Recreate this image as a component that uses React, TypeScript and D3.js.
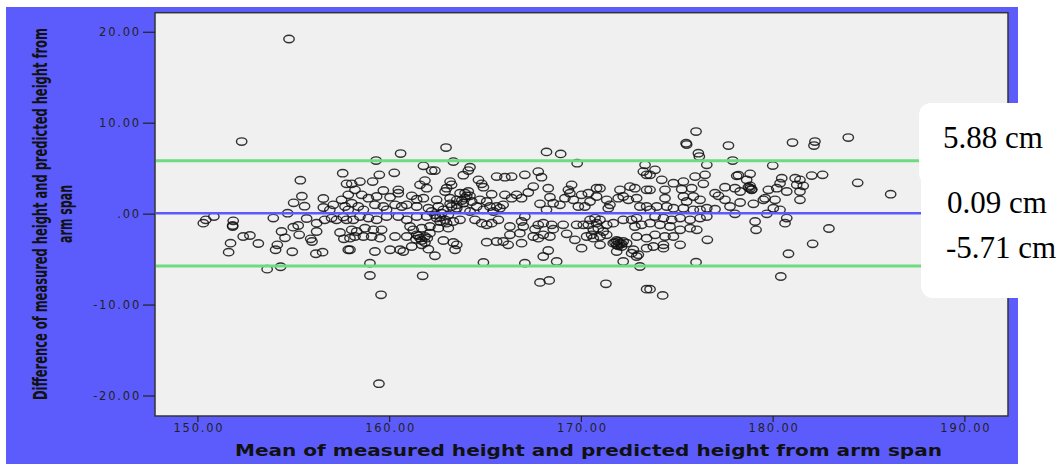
import React, { useLayoutEffect, useRef, useState } from "react";
import * as d3 from "d3";

// Bland-Altman: mean of measured & predicted height vs their difference
const xTicks = [150, 160, 170, 180, 190];
const xTickLabels = ["150.00", "160.00", "170.00", "180.00", "190.00"];
const yTicks = [-20, -10, 0, 10, 20];
const yTickLabels = ["-20.00", "-10.00", ".00", "10.00", "20.00"];

const limitValues = [5.88, 0.09, -5.71];
const limitLabels = ["5.88 cm", "0.09 cm", "-5.71 cm"];

const xTitle = "Mean of measured height and predicted height from arm span";
const yTitle = ["Difference of measured height and predicted height from", "arm span"];

// [mean, difference]
const pointsLow: [number, number][] = [
  [154.75, 19.26], [159.44, -18.65],
  [152.28, 7.98], [157.55, 4.5], [155.34, 3.73], [155.42, 1.97], [154.99, 1.24], [155.56, 0.87], [156.54, 1.72], [156.54, 0.73],
  [150.28, -0.99], [150.41, -0.63], [150.83, -0.26], [151.84, -0.74], [151.81, -1.25], [151.81, -1.36], [153.93, -0.44], [154.68, 0.1],
  [152.36, -2.46], [152.71, -2.35], [154.36, -1.91], [154.54, -2.61], [151.7, -3.19], [151.6, -4.18], [153.15, -3.23], [154.14, -3.38],
  [154.05, -3.92], [154.92, -4.14], [153.61, -6.05], [154.31, -5.79], [154.97, -1.43], [155.23, -1.25], [155.28, -2.28], [155.88, -2.72],
  [155.95, -3.01], [156.19, -1.91], [156.15, -4.36], [156.5, -4.18], [157.41, -2.02], [157.61, -2.72], [157.84, -3.92], [155.67, -0.48],
  [156.19, -0.99], [156.61, -0.63], [156.97, -0.44], [157.23, -0.63], [157.58, -0.33], [157.75, -0.63], [157.49, 1.57], [157.67, 0.84],
  [157.84, 2.12], [157.75, 3.33], [157.06, 1.02], [156.88, 0.47], [157.84, 0.47],
];

const pointsMidLow: [number, number][] = [
  [160.57, 6.66], [162.94, 7.32], [159.29, 5.89], [163.32, 5.78], [161.76, 5.31], [162.19, 4.79], [162.36, 4.79], [164.19, 5.16],
  [164.1, 4.79], [163.84, 4.28], [160.24, 4.54], [159.46, 4.32], [159.11, 3.58], [158.45, 3.58], [158.02, 3.33], [161.84, 3.69],
  [161.93, 2.85], [161.58, 3.22], [163.15, 3.58], [163.23, 3.22], [162.97, 2.85], [162.89, 2.49], [160.45, 2.67], [160.45, 2.3],
  [159.67, 2.6], [164.63, 3.77], [164.8, 3.33], [164.89, 2.96], [165.58, 4.13], [165.32, 2.19], [164.1, 2.49], [163.93, 2.3],
  [164.02, 2.01], [158.19, 2.67], [158.54, 2.12], [158.89, 1.75], [159.32, 1.94], [160.02, 1.86], [161.15, 2.01], [161.41, 1.64],
  [161.76, 1.75], [162.45, 1.57], [163.15, 1.75], [163.5, 1.57], [163.84, 1.2], [164.28, 1.39], [164.71, 1.57], [165.06, 1.39],
  [165.58, 0.84], [158.02, 1.2], [158.36, 0.84], [158.63, 0.47], [159.23, 1.02], [159.67, 0.84], [159.84, 0.47], [160.28, 1.02],
  [160.63, 0.84], [160.89, 1.02], [161.41, 0.84], [162.02, 0.65], [162.54, 0.84], [162.8, 0.47], [163.23, 0.84], [163.5, 0.65],
  [163.93, 0.47], [164.19, 0.29], [164.54, 0.84], [164.89, 0.47], [165.23, 0.84], [165.41, 0.29],
  [158.1, -0.63], [158.45, -0.26], [158.89, -0.44], [159.32, -0.63], [159.84, -0.26], [160.45, -0.26], [160.89, -0.63], [161.41, -0.26],
  [161.93, -0.26], [162.45, -0.44], [162.63, -0.81], [162.97, -0.99], [163.32, -0.81], [163.67, -0.63], [164.45, -0.63], [164.8, -0.99],
  [165.06, -1.18], [165.32, -0.99], [165.67, -0.63], [158.02, -1.73], [158.28, -1.91], [158.71, -1.54], [159.15, -1.73], [159.58, -1.73],
  [161.06, -1.36], [161.23, -1.73], [161.67, -1.54], [162.1, -1.36], [162.54, -1.54], [163.06, -1.54], [157.93, -2.64], [158.19, -2.46],
  [158.63, -2.46], [159.06, -2.46], [159.5, -2.64], [160.28, -2.46], [160.89, -2.46], [161.41, -2.28], [161.58, -2.64], [161.84, -2.46],
  [162.1, -2.09], [162.8, -2.9], [163.32, -3.12], [163.5, -3.38], [165.06, -3.08], [165.58, -3.01], [157.93, -3.92], [159.23, -4.11],
  [160.02, -3.92], [160.54, -3.92], [160.71, -4.11], [161.15, -3.56], [161.67, -3.38], [162.02, -3.85], [162.36, -4.58], [163.41, -3.92],
  [158.97, -5.39], [164.89, -5.32], [158.97, -6.75], [161.72, -6.78], [159.55, -8.87],
  [161.5, -2.39], [161.67, -2.9], [161.84, -3.12], [161.37, -2.75], [161.96, -2.64], [162.36, -0.08], [162.63, -0.33], [162.89, -0.63],
  [162.71, 0.1], [163.06, -0.08], [163.67, 2.3], [163.93, 1.75], [164.19, 2.01], [163.76, 1.5], [163.5, 1.02], [163.15, 1.13], [162.19, 0.29],
];

const pointsMidHigh: [number, number][] = [
  [168.18, 6.84], [168.92, 6.62], [169.78, 5.6], [167.05, 4.32], [167.75, 4.68], [167.92, 4.06], [166.01, 4.06], [166.36, 4.13],
  [173.32, 5.42], [173.23, 4.68], [173.4, 4.32], [167.49, 3.03], [168.27, 2.85], [167.23, 2.38], [166.62, 2.12], [166.01, 2.12],
  [166.36, 1.75], [166.88, 1.75], [165.92, 1.02], [165.75, 0.65], [167.84, 1.13], [168.36, 1.86], [168.88, 1.02], [168.53, 1.2],
  [169.14, 1.75], [169.49, 3.22], [169.32, 2.67], [169.4, 2.3], [169.58, 1.57], [170.01, 2.12], [170.36, 2.3], [170.45, 1.39],
  [170.79, 2.85], [170.97, 2.85], [170.79, 1.94], [169.84, 0.84], [170.18, 0.84], [171.32, 1.57], [171.49, 1.02], [171.4, 0.65],
  [172.01, 2.67], [171.92, 1.75], [172.53, 3.03], [172.79, 2.85], [172.18, 1.94], [172.45, 1.57], [172.88, 1.75], [173.4, 2.67],
  [173.05, 0.84], [173.4, 0.84], [168.18, 0.47], [167.05, -0.26], [166.27, -1.36], [166.88, -0.81], [166.97, -1.36], [167.75, -1.18],
  [168.01, -0.99], [167.58, -1.65], [168.45, -1.18], [168.53, -1.65], [169.05, -1.18], [169.75, -1.18], [170.1, -1.18], [170.45, -0.63],
  [170.71, -0.44], [170.79, -0.99], [170.97, -0.63], [171.32, -1.18], [171.66, -0.99], [172.18, -0.63], [172.62, -0.63], [172.88, -0.44],
  [173.14, -1.18], [172.79, -1.36], [170.27, -2.46], [170.62, -2.64], [170.97, -2.46], [171.32, -2.28], [171.66, -3.19], [171.84, -3.38],
  [172.01, -3.19], [172.1, -3.56], [171.92, -3.01], [172.36, -3.19], [172.88, -2.46], [172.71, -3.92], [173.4, -2.64], [173.4, -3.74],
  [172.97, -4.47], [166.27, -2.28], [166.79, -2.09], [167.49, -2.46], [168.01, -2.28], [168.36, -2.46], [169.23, -2.17], [169.66, -2.83],
  [165.92, -3.01], [166.18, -3.38], [166.88, -3.19], [167.75, -2.64], [170.01, -3.74], [168.27, -4.0], [168.01, -4.66], [168.71, -5.21],
  [167.05, -5.39], [170.97, -3.38], [171.84, -4.11], [172.62, -4.29], [172.88, -4.66], [172.18, -5.21], [173.05, -5.76], [167.84, -7.51],
  [168.32, -7.29], [171.28, -7.66], [173.4, -8.25],
  [171.75, -3.12], [171.92, -3.49], [172.1, -3.27], [171.84, -2.9], [172.18, -3.01], [170.36, -1.18], [170.62, -1.73], [170.88, -1.54],
  [171.14, -1.91], [170.53, -2.28],
];

const pointsHigh: [number, number][] = [
  [175.98, 9.08], [175.46, 7.8], [175.49, 7.65], [177.67, 7.54], [181.01, 7.87], [176.1, 6.7], [176.15, 6.33], [176.54, 5.42],
  [177.89, 5.89], [179.98, 5.34], [173.84, 4.87], [174.19, 3.77], [173.58, 4.32], [174.8, 3.4], [175.32, 3.58], [175.93, 4.13],
  [176.45, 4.32], [176.36, 3.33], [175.75, 2.85], [175.23, 2.74], [174.36, 2.67], [173.58, 2.67], [177.49, 2.96], [178.1, 4.21],
  [178.8, 4.43], [178.62, 3.77], [178.8, 2.85], [178.88, 2.67], [176.97, 2.3], [177.15, 2.01], [177.49, 1.57], [178.28, 2.49],
  [178.01, 2.85], [178.28, 1.28], [178.97, 1.13], [179.58, 1.75], [179.75, 2.67], [180.19, 2.85], [180.45, 3.95], [180.36, 3.4],
  [180.71, 2.49], [181.15, 3.95], [181.23, 3.22], [180.1, 1.57], [180.01, 0.65], [180.36, 0.47], [180.71, -0.44], [180.62, -0.99],
  [179.49, 1.57], [177.75, 0.84], [178.01, 0.03], [179.06, -0.81], [179.11, -1.73], [179.67, 0.03], [176.97, 0.54], [176.54, 0.65],
  [176.19, 1.57], [175.84, 1.94], [175.49, 1.39], [175.32, 1.94], [174.36, 1.75], [173.93, 0.84], [174.45, 0.84], [174.8, 0.65],
  [173.58, 0.47], [175.32, 0.65], [175.84, 0.47], [176.19, 0.47], [173.84, -0.26], [174.28, -0.44], [174.71, -0.63], [175.15, -0.44],
  [175.67, -0.63], [176.19, -0.44], [176.54, -0.26], [173.58, -0.99], [174.1, -1.18], [174.62, -1.36], [175.15, -1.73], [175.67, -1.54],
  [176.02, -1.73], [173.84, -2.28], [174.36, -2.46], [174.8, -2.46], [173.75, -3.56], [174.28, -3.38], [174.28, -3.74], [175.15, -3.38],
  [176.57, -2.83], [175.98, -5.28], [180.8, -4.36], [180.4, -6.86], [173.58, -8.25], [174.24, -8.94],
  [178.71, 2.96], [178.88, 2.74], [178.8, 3.11], [178.19, 4.28],
  [182.18, 7.98], [182.13, 7.54], [183.92, 8.42], [182.01, 4.24], [182.58, 4.32], [184.41, 3.44], [186.13, 2.19], [181.4, 3.77],
  [181.57, 3.11], [181.4, 2.49], [181.4, 1.57], [182.91, -1.58], [182.06, -3.27],
];

const points = [...pointsLow, ...pointsMidLow, ...pointsMidHigh, ...pointsHigh];

const W = 1062;
const H = 464;
const plot = { left: 155, right: 1008, top: 12.7, bottom: 416 };

const x = d3.scaleLinear().domain([147.76, 192.25]).range([plot.left, plot.right]);
const y = d3.scaleLinear().domain([-22.2, 22.15]).range([plot.bottom, plot.top]);

const tickFont = "'DejaVu Sans', Verdana, sans-serif";
const limitColors = ["#6ddc80", "#5a5aff", "#6ddc80"];
const labelX = [943, 947, 946];
const labelDy = [-13, 0, -8];

// rotated y title: squeeze each line horizontally to the width seen in the reference
const yTitlePos = [47, 72];
const yTitleLen = [372, 58];

function YTitle() {
  const refs = useRef<(SVGTextElement | null)[]>([]);
  const [scales, setScales] = useState([0.8, 0.8]);
  useLayoutEffect(() => {
    const s = refs.current.map((el, i) => {
      const len = el ? el.getComputedTextLength() : 0;
      return len > 0 ? yTitleLen[i] / len : 0.8;
    });
    setScales(s);
  }, []);
  return (
    <g>
      {yTitle.map((line, i) => (
        <text
          key={line}
          ref={(el) => {
            refs.current[i] = el;
          }}
          transform={`translate(${yTitlePos[i]},214) rotate(-90) scale(${scales[i]},1)`}
          textAnchor="middle"
          fontFamily="'Liberation Sans Narrow', 'DejaVu Sans Condensed', 'Arial Narrow', sans-serif"
          fontWeight="bold"
          fontSize={20}
          fill="#111"
        >
          {line}
        </text>
      ))}
    </g>
  );
}

export default function App() {
  return (
    <svg width={W} height={H} style={{ position: "absolute", left: 0, top: 0 }}>
      <rect x={0} y={0} width={W} height={H} fill="#fff" />
      <rect x={6} y={7} width={1012} height={H - 7} fill="#5c5cfc" />
      <rect
        x={plot.left}
        y={plot.top}
        width={plot.right - plot.left}
        height={plot.bottom - plot.top}
        fill="#f0f0f0"
        stroke="#333"
        strokeWidth={1.5}
      />

      {/* y axis */}
      {yTicks.map((t, i) => (
        <g key={"y" + t}>
          <line x1={143} x2={plot.left} y1={y(t)} y2={y(t)} stroke="#222" strokeWidth={1.2} />
          <text
            x={141}
            y={y(t) + 4}
            textAnchor="end"
            fontFamily={tickFont}
            fontSize={11.5}
            letterSpacing={1.8}
            fill="#222"
          >
            {yTickLabels[i]}
          </text>
        </g>
      ))}

      {/* x axis */}
      {xTicks.map((t, i) => (
        <g key={"x" + t}>
          <line x1={x(t)} x2={x(t)} y1={plot.bottom} y2={plot.bottom + 6} stroke="#222" strokeWidth={1.2} />
          <text
            x={x(t) + 1}
            y={432}
            textAnchor="middle"
            fontFamily={tickFont}
            fontSize={11.5}
            letterSpacing={1.8}
            fill="#222"
          >
            {xTickLabels[i]}
          </text>
        </g>
      ))}

      <text
        x={(plot.left + plot.right) / 2 + 7}
        y={456}
        textAnchor="middle"
        fontFamily="'DejaVu Sans', Verdana, sans-serif"
        fontWeight="bold"
        fontSize={16}
        textLength={707}
        lengthAdjust="spacingAndGlyphs"
        fill="#111"
      >
        {xTitle}
      </text>

      <YTitle />

      {/* points */}
      <g fill="none" stroke="#111" strokeOpacity={0.85} strokeWidth={1.4}>
        {points.map(([m, d], i) => (
          <ellipse key={i} cx={x(m)} cy={y(d)} rx={5.2} ry={3.7} />
        ))}
      </g>

      {/* limits of agreement */}
      {limitValues.map((v, i) => (
        <line
          key={"l" + i}
          x1={plot.left + 1}
          x2={plot.right - 1}
          y1={y(v)}
          y2={y(v)}
          stroke={limitColors[i]}
          strokeWidth={i === 1 ? 2.5 : 3}
        />
      ))}

      {/* annotation boxes */}
      <rect x={919} y={103} width={200} height={82} rx={12} fill="#fff" />
      <rect x={921} y={165} width={200} height={133} rx={12} fill="#fff" />
      {limitLabels.map((lab, i) => (
        <text
          key={lab}
          x={labelX[i]}
          y={y(limitValues[i]) + labelDy[i]}
          fontFamily="'Liberation Serif', 'Times New Roman', serif"
          fontSize={31}
          fill="#000"
        >
          {lab}
        </text>
      ))}
    </svg>
  );
}
